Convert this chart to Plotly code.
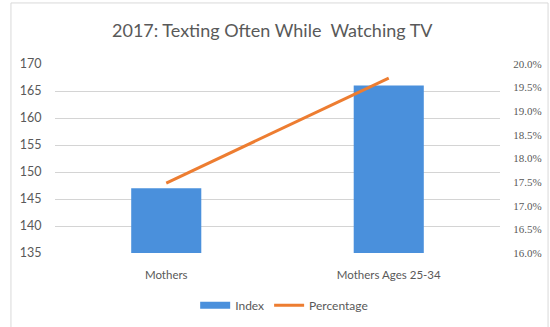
import plotly.graph_objects as go

categories = ["Mothers", "Mothers Ages 25-34"]
index_values = [147, 166]
percentage_values = [0.1748, 0.1970]
left_ticks = [135, 140, 145, 150, 155, 160, 165, 170]
right_ticks = [0.16, 0.165, 0.17, 0.175, 0.18, 0.185, 0.19, 0.195, 0.20]

BLUE = "#4A90DC"
ORANGE = "#ED7D31"

fig = go.Figure()
fig.add_trace(go.Bar(x=categories, y=index_values, name="Index", showlegend=False,
                     marker=dict(color=BLUE, line=dict(width=0)), yaxis="y"))
fig.add_trace(go.Scatter(x=[None], y=[None], name="Index", mode="lines",
                         line=dict(color=BLUE, width=7), yaxis="y"))
fig.add_trace(go.Scatter(x=categories, y=percentage_values, name="Percentage",
                         mode="lines", line=dict(color=ORANGE, width=3), yaxis="y2"))

fig.update_layout(
    width=550, height=327,
    margin=dict(l=55, r=50, t=64, b=74, autoexpand=False),
    paper_bgcolor="white", plot_bgcolor="white",
    font=dict(family="Lato, sans-serif", color="#595959", size=12),
    title=dict(text="2017: Texting Often While  Watching TV", x=0.495, xanchor="center",
               y=0.905, yanchor="middle", font=dict(size=18, color="#595959", family="Lato, sans-serif")),
    bargap=0.685,
    showlegend=True,
    legend=dict(orientation="h", x=0.515, xanchor="center", y=-0.20, yanchor="top",
                font=dict(size=12, color="#595959"), itemwidth=30, tracegroupgap=0),
    xaxis=dict(showgrid=False, showline=False, ticks="", automargin=False, ticklabelstandoff=13,
               tickfont=dict(size=11.5, color="#595959")),
    yaxis=dict(range=[135, 170], tickvals=left_ticks, showgrid=True, gridcolor="#d4d4d4",
               gridwidth=1, zeroline=False, showline=False,
               ticks="outside", ticklen=10, tickcolor="rgba(0,0,0,0)",
               automargin=False, tickfont=dict(size=12.5, color="#595959")),
    yaxis2=dict(range=[0.16, 0.20], tickvals=right_ticks, tickformat=".1%", overlaying="y",
                side="right", showgrid=False, zeroline=False, showline=False,
                ticks="outside", ticklen=10, tickcolor="rgba(0,0,0,0)", automargin=False,
                tickfont=dict(size=11, color="#595959", family="Liberation Serif, serif")),
    shapes=[dict(type="rect", xref="paper", yref="paper", x0=-0.099, x1=1.108,
                 y0=-0.5, y1=1.323, line=dict(color="#d9d9d9", width=1),
                 fillcolor="rgba(0,0,0,0)", layer="below")],
)
fig.write_html("out.html", config={"displayModeBar": False},
               post_script="document.body.style.margin='0';")
